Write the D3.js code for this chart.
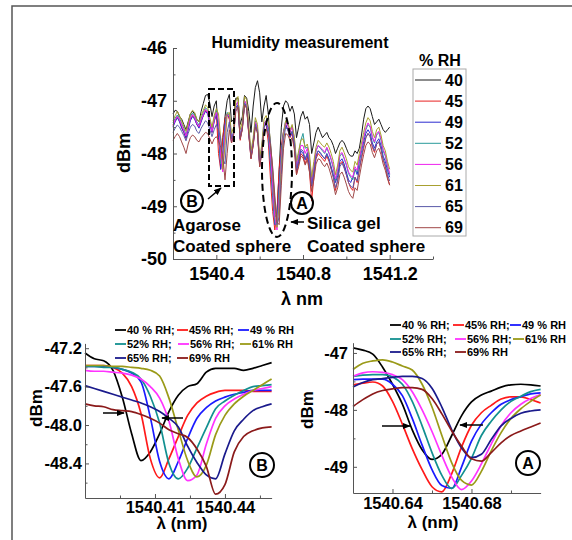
<!DOCTYPE html>
<html>
<head>
<meta charset="utf-8">
<script src="https://cdn.jsdelivr.net/npm/d3@7"></script>
<style>
body { margin: 0; background: #fff; }
svg { font-family: "Liberation Sans", Arial, sans-serif; }
.tick text { font-weight: bold; fill: #000; }
</style>
</head>
<body>
<div id="chart"></div>
<script>
// ---------------- data ----------------
var humidity = [40, 45, 49, 52, 56, 61, 65, 69];
var mainColors = ["#1a1a1a", "#e82020", "#2a2ad0", "#2a9a9a", "#ee22ee", "#a8a030", "#5a5aa8", "#a04848"];
var insetColors = ["#000000", "#ff1a1a", "#1a1aff", "#129090", "#ff33ff", "#9a9a18", "#1a1a8c", "#8b1a1a"];
var insetLabels = ["40 % RH;", "45% RH;", "49 % RH", "52% RH;", "56% RH;", "61% RH", "65% RH;", "69% RH"];

// main spectrum: 1540.20 .. 1541.20 nm, one value every 0.01 nm
var mainStart = 1540.20, mainStep = 0.01;
var main40 = [-47.25,-47.18,-47.20,-47.30,-47.35,-47.45,-47.55,-47.40,-47.25,-47.20,
  -47.25,-47.35,-47.40,-47.20,-47.05,-46.90,-46.88,-47.05,-47.30,-47.10,
  -47.00,-47.70,-48.05,-47.70,-47.30,-47.00,-46.88,-47.40,-47.35,-46.95,
  -46.95,-47.45,-47.30,-46.90,-46.95,-47.20,-47.60,-47.10,-46.75,-46.62,
  -46.85,-47.40,-47.10,-46.90,-47.25,-47.90,-48.60,-49.20,-49.15,-48.30,
  -47.50,-47.10,-47.00,-47.05,-47.20,-47.10,-47.25,-47.70,-47.50,-47.30,
  -47.20,-47.35,-47.30,-47.45,-48.00,-47.80,-47.60,-47.50,-47.60,-47.70,
  -47.65,-47.60,-47.70,-47.75,-47.85,-48.00,-47.90,-47.80,-47.75,-47.80,
  -47.90,-48.00,-48.05,-48.05,-47.95,-48.00,-47.90,-47.65,-47.35,-47.15,
  -47.10,-47.15,-47.30,-47.45,-47.40,-47.35,-47.45,-47.55,-47.60,-47.55,-47.50];
var main45 = [-47.45,-47.38,-47.30,-47.38,-47.50,-47.60,-47.72,-47.52,-47.35,-47.28,
  -47.33,-47.45,-47.50,-47.38,-47.28,-47.18,-47.22,-47.42,-47.60,-47.38,
  -47.25,-48.00,-48.30,-47.70,-47.35,-47.25,-47.35,-47.80,-47.62,-47.12,
  -47.08,-47.75,-47.52,-47.05,-47.12,-47.65,-48.10,-47.85,-47.42,-47.58,
  -48.25,-47.95,-47.50,-47.45,-47.80,-48.50,-49.10,-49.45,-49.10,-48.30,
  -47.85,-47.58,-47.45,-47.55,-47.70,-47.62,-47.88,-48.40,-48.20,-48.00,
  -48.05,-48.20,-48.05,-48.35,-48.90,-48.45,-48.10,-48.00,-48.05,-48.10,
  -48.15,-48.05,-48.15,-48.30,-48.45,-48.70,-48.50,-48.20,-48.15,-48.25,
  -48.40,-48.55,-48.65,-48.70,-48.45,-48.55,-48.30,-48.10,-47.90,-47.70,
  -47.62,-47.68,-47.88,-47.98,-47.82,-47.78,-47.92,-48.12,-48.25,-48.45,-48.60];
var main49 = [-47.50,-47.40,-47.32,-47.40,-47.52,-47.60,-47.70,-47.55,-47.38,-47.30,
  -47.35,-47.45,-47.52,-47.40,-47.28,-47.20,-47.25,-47.45,-47.60,-47.40,
  -47.25,-47.55,-48.30,-48.05,-47.45,-47.25,-47.32,-47.78,-47.60,-47.12,
  -47.08,-47.72,-47.52,-47.05,-47.12,-47.62,-48.08,-47.82,-47.45,-47.58,
  -48.22,-47.92,-47.48,-47.42,-47.65,-48.20,-48.80,-49.35,-49.30,-48.60,
  -47.95,-47.60,-47.45,-47.55,-47.68,-47.58,-47.82,-48.32,-48.15,-47.95,
  -48.00,-48.12,-48.00,-48.25,-48.62,-48.35,-48.05,-47.95,-48.00,-48.05,
  -48.10,-48.00,-48.10,-48.25,-48.40,-48.55,-48.42,-48.15,-48.10,-48.20,
  -48.35,-48.50,-48.55,-48.45,-48.30,-48.40,-48.15,-47.95,-47.78,-47.62,
  -47.55,-47.62,-47.80,-47.90,-47.78,-47.72,-47.85,-48.05,-48.15,-48.32,-48.45];
var main52 = [-47.42,-47.33,-47.27,-47.33,-47.43,-47.52,-47.65,-47.48,-47.30,-47.23,
  -47.28,-47.40,-47.46,-47.33,-47.22,-47.13,-47.18,-47.38,-47.55,-47.33,
  -47.18,-47.45,-48.20,-48.15,-47.50,-47.22,-47.28,-47.72,-47.58,-47.08,
  -47.03,-47.68,-47.48,-47.00,-47.08,-47.58,-48.02,-47.78,-47.38,-47.52,
  -48.18,-47.88,-47.42,-47.38,-47.62,-48.15,-48.75,-49.30,-49.38,-48.70,
  -48.00,-47.58,-47.38,-47.45,-47.58,-47.48,-47.72,-48.20,-48.00,-47.75,
  -47.62,-47.90,-47.88,-48.10,-48.52,-48.25,-47.95,-47.85,-47.90,-47.95,
  -48.00,-47.90,-48.00,-48.12,-48.28,-48.52,-48.35,-48.05,-48.00,-48.10,
  -48.22,-48.38,-48.45,-48.50,-48.30,-48.35,-48.10,-47.92,-47.72,-47.55,
  -47.45,-47.50,-47.70,-47.80,-47.65,-47.60,-47.75,-47.95,-48.05,-48.25,-48.40];
var main56 = [-47.48,-47.36,-47.30,-47.36,-47.46,-47.56,-47.67,-47.50,-47.33,-47.26,
  -47.31,-47.43,-47.49,-47.36,-47.26,-47.16,-47.21,-47.41,-47.58,-47.36,
  -47.22,-47.38,-48.05,-48.35,-47.62,-47.25,-47.30,-47.75,-47.60,-47.08,
  -47.02,-47.70,-47.50,-47.00,-47.07,-47.60,-48.05,-47.80,-47.40,-47.54,
  -48.20,-47.90,-47.44,-47.38,-47.55,-48.00,-48.60,-49.20,-49.45,-48.85,
  -48.10,-47.62,-47.40,-47.48,-47.60,-47.50,-47.75,-48.25,-48.05,-47.85,
  -47.85,-48.00,-47.90,-48.12,-48.55,-48.25,-47.95,-47.85,-47.88,-47.92,
  -47.98,-47.88,-47.98,-48.10,-48.25,-48.48,-48.30,-48.02,-47.98,-48.08,
  -48.20,-48.35,-48.42,-48.45,-48.25,-48.32,-48.08,-47.90,-47.70,-47.52,
  -47.42,-47.48,-47.68,-47.78,-47.62,-47.58,-47.72,-47.92,-48.02,-48.22,-48.38];
var main61 = [-47.38,-47.28,-47.20,-47.28,-47.38,-47.48,-47.58,-47.42,-47.25,-47.18,
  -47.22,-47.35,-47.40,-47.28,-47.18,-47.08,-47.12,-47.32,-47.50,-47.28,
  -47.15,-47.25,-47.70,-48.30,-47.85,-47.25,-47.22,-47.62,-47.50,-47.00,
  -46.92,-47.55,-47.40,-46.92,-46.98,-47.48,-47.95,-47.70,-47.32,-47.45,
  -48.10,-47.82,-47.35,-47.28,-47.40,-47.80,-48.35,-49.00,-49.40,-49.00,
  -48.20,-47.65,-47.38,-47.42,-47.55,-47.45,-47.68,-48.15,-47.95,-47.75,
  -47.72,-47.88,-47.82,-48.02,-48.45,-48.15,-47.88,-47.75,-47.80,-47.85,
  -47.88,-47.80,-47.88,-48.00,-48.15,-48.40,-48.22,-47.95,-47.88,-47.98,
  -48.10,-48.25,-48.32,-48.35,-48.15,-48.22,-48.00,-47.80,-47.60,-47.42,
  -47.32,-47.38,-47.58,-47.70,-47.55,-47.50,-47.65,-47.85,-47.95,-48.15,-48.30];
var main65 = [-47.60,-47.52,-47.46,-47.50,-47.58,-47.66,-47.76,-47.62,-47.50,-47.45,
  -47.48,-47.58,-47.62,-47.52,-47.45,-47.38,-47.42,-47.55,-47.68,-47.55,
  -47.45,-47.55,-47.72,-48.10,-48.20,-47.60,-47.40,-47.72,-47.62,-47.15,
  -47.10,-47.70,-47.52,-47.05,-47.12,-47.62,-48.05,-47.82,-47.45,-47.58,
  -48.20,-47.95,-47.50,-47.45,-47.50,-47.80,-48.30,-48.90,-49.35,-49.20,
  -48.40,-47.75,-47.50,-47.55,-47.65,-47.58,-47.80,-48.30,-48.12,-47.92,
  -47.95,-48.10,-47.98,-48.22,-48.60,-48.35,-48.05,-47.95,-47.98,-48.05,
  -48.10,-48.02,-48.12,-48.28,-48.45,-48.65,-48.52,-48.25,-48.18,-48.28,
  -48.40,-48.55,-48.62,-48.65,-48.45,-48.52,-48.28,-48.05,-47.85,-47.70,
  -47.62,-47.68,-47.85,-47.95,-47.82,-47.78,-47.90,-48.10,-48.22,-48.40,-48.52];
var main69 = [-47.75,-47.68,-47.62,-47.68,-47.78,-47.88,-48.00,-47.82,-47.70,-47.65,
  -47.68,-47.75,-47.78,-47.70,-47.65,-47.60,-47.62,-47.72,-47.82,-47.72,
  -47.68,-47.75,-47.88,-48.05,-48.50,-48.00,-47.55,-47.80,-47.65,-47.20,
  -47.12,-47.72,-47.55,-47.08,-47.15,-47.65,-48.10,-47.85,-47.50,-47.62,
  -48.25,-48.00,-47.60,-47.55,-47.62,-47.85,-48.25,-48.80,-49.30,-49.35,
  -48.60,-47.90,-47.62,-47.65,-47.75,-47.70,-47.92,-48.40,-48.25,-48.05,
  -48.08,-48.22,-48.12,-48.35,-48.72,-48.50,-48.20,-48.10,-48.12,-48.20,
  -48.25,-48.18,-48.28,-48.42,-48.58,-48.78,-48.65,-48.40,-48.35,-48.45,
  -48.58,-48.72,-48.80,-48.85,-48.65,-48.70,-48.45,-48.22,-48.02,-47.85,
  -47.78,-47.82,-47.98,-48.08,-47.95,-47.90,-48.02,-48.20,-48.32,-48.48,-48.60];
var mainSeries = [main40, main45, main49, main52, main56, main61, main65, main69];

// inset B (agarose sphere): 1540.380 .. 1540.460 nm every 0.004 nm
var bStart = 1540.38, bStep = 0.004;
var b40 = [-47.25,-47.31,-47.33,-47.43,-47.71,-48.09,-48.37,-48.28,-48.09,-47.86,-47.69,-47.60,-47.57,-47.45,-47.41,-47.41,-47.41,-47.43,-47.41,-47.38,-47.35];
var b45 = [-47.38,-47.38,-47.38,-47.40,-47.46,-47.60,-47.88,-48.35,-48.55,-48.35,-48.12,-47.90,-47.77,-47.70,-47.66,-47.64,-47.64,-47.64,-47.65,-47.65,-47.65];
var b49 = [-47.39,-47.39,-47.39,-47.40,-47.42,-47.46,-47.55,-47.92,-48.38,-48.56,-48.38,-48.14,-47.93,-47.82,-47.75,-47.71,-47.68,-47.66,-47.64,-47.64,-47.64];
var b52 = [-47.39,-47.39,-47.40,-47.40,-47.42,-47.45,-47.52,-47.70,-47.98,-48.40,-48.56,-48.45,-48.24,-48.03,-47.83,-47.75,-47.69,-47.64,-47.60,-47.59,-47.58];
var b56 = [-47.43,-47.44,-47.44,-47.45,-47.46,-47.48,-47.52,-47.60,-47.72,-47.96,-48.35,-48.58,-48.52,-48.20,-47.93,-47.80,-47.73,-47.68,-47.64,-47.62,-47.60];
var b61 = [-47.38,-47.38,-47.38,-47.39,-47.39,-47.40,-47.41,-47.43,-47.49,-47.72,-48.05,-48.37,-48.54,-48.42,-48.10,-47.90,-47.78,-47.70,-47.64,-47.58,-47.52];
var b65 = [-47.59,-47.62,-47.65,-47.68,-47.71,-47.74,-47.77,-47.81,-47.86,-47.93,-48.02,-48.22,-48.39,-48.52,-48.56,-48.30,-48.06,-47.94,-47.85,-47.81,-47.78];
var b69 = [-47.78,-47.80,-47.81,-47.84,-47.85,-47.86,-47.89,-47.93,-47.98,-48.05,-48.09,-48.13,-48.25,-48.43,-48.72,-48.62,-48.28,-48.12,-48.06,-48.03,-48.02];
var bSeries = [b40, b45, b49, b52, b56, b61, b65, b69];

// inset A (silica gel sphere): 1540.620 .. 1540.715 nm every 0.005 nm
var aStart = 1540.62, aStep = 0.005;
var a40 = [-46.91,-46.95,-47.02,-47.25,-47.55,-47.90,-48.35,-48.70,-48.87,-48.78,-48.45,-48.10,-47.86,-47.74,-47.67,-47.60,-47.56,-47.55,-47.56,-47.58];
var a45 = [-47.56,-47.53,-47.51,-47.58,-47.85,-48.25,-48.68,-49.05,-49.35,-49.44,-49.12,-48.65,-48.27,-48.05,-47.92,-47.81,-47.77,-47.77,-47.82,-47.88];
var a49 = [-47.47,-47.46,-47.46,-47.46,-47.55,-47.75,-48.15,-48.62,-49.05,-49.33,-49.38,-49.00,-48.55,-48.25,-48.05,-47.90,-47.82,-47.77,-47.72,-47.70];
var a52 = [-47.41,-47.39,-47.38,-47.38,-47.42,-47.55,-47.85,-48.28,-48.75,-49.15,-49.38,-49.15,-48.85,-48.45,-48.20,-48.00,-47.85,-47.76,-47.68,-47.64];
var a56 = [-47.41,-47.35,-47.33,-47.34,-47.38,-47.47,-47.68,-48.00,-48.38,-48.80,-49.18,-49.40,-49.25,-48.95,-48.60,-48.28,-48.05,-47.90,-47.80,-47.73];
var a61 = [-47.29,-47.18,-47.14,-47.12,-47.16,-47.23,-47.30,-47.55,-47.95,-48.45,-48.93,-49.24,-49.32,-49.08,-48.72,-48.40,-48.15,-47.98,-47.85,-47.74];
var a65 = [-47.60,-47.52,-47.47,-47.45,-47.43,-47.41,-47.41,-47.45,-47.62,-47.95,-48.35,-48.67,-48.84,-48.78,-48.52,-48.28,-48.15,-48.06,-48.02,-48.00];
var a69 = [-47.94,-47.82,-47.72,-47.66,-47.63,-47.61,-47.61,-47.64,-47.80,-48.07,-48.37,-48.64,-48.86,-48.90,-48.75,-48.58,-48.45,-48.37,-48.30,-48.23];
var aSeries = [a40, a45, a49, a52, a56, a61, a65, a69];

// ---------------- svg ----------------
var svg = d3.select("#chart").append("svg")
  .attr("width", 572)
  .attr("height", 540);

svg.append("defs").append("marker")
  .attr("id", "arrow")
  .attr("viewBox", "0 0 10 10")
  .attr("refX", 9).attr("refY", 5)
  .attr("markerWidth", 8).attr("markerHeight", 8)
  .attr("markerUnits", "userSpaceOnUse")
  .attr("orient", "auto")
  .append("path")
  .attr("d", "M0,1 L10,5 L0,9 z")
  .attr("fill", "#000");

// outer frame (top and left edges visible)
svg.append("path")
  .attr("d", "M12,540 L12,6 L572,6")
  .attr("fill", "none")
  .attr("stroke", "#555")
  .attr("stroke-width", 1.5);

// draws inward ticks (major with labels, minor without)
function drawAxes(x, y, opt) {
  var g = svg.append("g");
  g.append("g")
    .attr("transform", `translate(0, ${y.range()[0]})`)
    .call(d3.axisBottom(x).tickValues(opt.xMinor).tickSize(-opt.minor).tickSizeOuter(0).tickFormat(""))
    .call(a => a.select(".domain").remove());
  var xa = g.append("g")
    .attr("transform", `translate(0, ${y.range()[0]})`)
    .call(d3.axisBottom(x).tickValues(opt.xMajor).tickSize(-opt.major).tickSizeOuter(0)
      .tickPadding(opt.xPad).tickFormat(opt.xFormat));
  g.append("g")
    .attr("transform", `translate(${x.range()[0]}, 0)`)
    .call(d3.axisLeft(y).tickValues(opt.yMinor).tickSize(-opt.minor).tickSizeOuter(0).tickFormat(""))
    .call(a => a.select(".domain").remove());
  var ya = g.append("g")
    .attr("transform", `translate(${x.range()[0]}, 0)`)
    .call(d3.axisLeft(y).tickValues(opt.yMajor).tickSize(-opt.major).tickSizeOuter(0)
      .tickPadding(opt.yPad).tickFormat(opt.yFormat));
  g.selectAll(".domain").attr("stroke", "#555");
  g.selectAll(".tick line").attr("stroke", "#555");
  g.selectAll(".tick text")
    .style("font-size", opt.font + "px")
    .style("font-family", "'Liberation Sans', Arial, sans-serif");
  return g;
}

function drawSeries(x, y, start, step, series, colors, width) {
  var line = d3.line()
    .x((d, i) => x(start + i * step))
    .y(d => y(d));
  if (width > 1.2) line.curve(d3.curveMonotoneX);
  svg.append("g")
    .selectAll("path")
    .data(series)
    .enter()
    .append("path")
    .attr("d", line)
    .attr("fill", "none")
    .attr("stroke", (d, i) => colors[i])
    .attr("stroke-width", width)
    .attr("stroke-linejoin", "round");
}

function label(txt, x, y, size, anchor, rotate) {
  var t = svg.append("text")
    .attr("x", x).attr("y", y)
    .attr("text-anchor", anchor || "start")
    .style("font-size", size + "px")
    .style("font-weight", "bold")
    .text(txt);
  if (rotate) t.attr("transform", `rotate(-90, ${x}, ${y})`);
  return t;
}

function circled(txt, cx, cy, r) {
  svg.append("circle").attr("cx", cx).attr("cy", cy).attr("r", r)
    .attr("fill", "none").attr("stroke", "#000").attr("stroke-width", 2);
  label(txt, cx, cy + 6, 16, "middle");
}

function arrow(x1, y1, x2, y2) {
  svg.append("line")
    .attr("x1", x1).attr("y1", y1).attr("x2", x2).attr("y2", y2)
    .attr("stroke", "#000").attr("stroke-width", 1.5)
    .attr("marker-end", "url(#arrow)");
}

// ---------------- main chart ----------------
var xMain = d3.scaleLinear().domain([1540.2, 1541.4]).range([173, 433]);
var yMain = d3.scaleLinear().domain([-50, -46]).range([259, 48]);

drawSeries(xMain, yMain, mainStart, mainStep, mainSeries, mainColors, 1);

drawAxes(xMain, yMain, {
  xMajor: [1540.4, 1540.8, 1541.2], xMinor: [1540.2, 1540.6, 1541.0, 1541.4],
  yMajor: [-50, -49, -48, -47, -46], yMinor: [-49.5, -48.5, -47.5, -46.5],
  xFormat: d => d.toFixed(1), yFormat: d => String(d),
  major: 4, minor: 2.5, xPad: 8, yPad: 6, font: 18
});

label("Humidity measurement", 300, 48, 16, "middle");
label("dBm", 130, 153, 18, "middle", true);
label("λ nm", 302, 305, 18, "middle");

// dashed marks around the two resonances
svg.append("rect")
  .attr("x", 209).attr("y", 89).attr("width", 25).attr("height", 97)
  .attr("fill", "none").attr("stroke", "#000").attr("stroke-width", 2)
  .attr("stroke-dasharray", "6,3");
svg.append("ellipse")
  .attr("cx", 277).attr("cy", 170).attr("rx", 15).attr("ry", 67)
  .attr("fill", "none").attr("stroke", "#000").attr("stroke-width", 2)
  .attr("stroke-dasharray", "7,4");

circled("B", 192, 201, 11);
arrow(208, 199, 221, 188);
label("Agarose", 173, 231, 17);
label("Coated sphere", 173, 252, 17);
circled("A", 302, 203, 11);
arrow(304, 222, 291, 222);
label("Silica gel", 307, 229, 17);
label("Coated sphere", 307, 252, 17);

// legend
svg.append("rect")
  .attr("x", 413).attr("y", 69).attr("width", 53).attr("height", 167)
  .attr("fill", "#fff").attr("stroke", "#aaa").attr("stroke-width", 1);
label("% RH", 440, 66, 16, "middle");
humidity.forEach(function(h, i) {
  var yy = 80 + i * 21.1;
  svg.append("line").attr("x1", 415).attr("x2", 441).attr("y1", yy).attr("y2", yy)
    .attr("stroke", mainColors[i]).attr("stroke-width", 1);
  label(h, 445, yy + 5.5, 16);
});

// ---------------- inset B ----------------
var xB = d3.scaleLinear().domain([1540.38, 1540.46]).range([85, 271.6]);
var yB = d3.scaleLinear().domain([-48.76, -47.15]).range([498, 343.4]);

drawSeries(xB, yB, bStart, bStep, bSeries, insetColors, 1.7);
drawAxes(xB, yB, {
  xMajor: [1540.41, 1540.44], xMinor: [1540.38, 1540.395, 1540.425, 1540.455],
  yMajor: [-48.4, -48.0, -47.6, -47.2], yMinor: [-48.6, -48.2, -47.8, -47.4],
  xFormat: d => d.toFixed(2), yFormat: d => d.toFixed(1),
  major: 4, minor: 2.5, xPad: 3, yPad: 3, font: 16.5
});
label("dBm", 42, 408, 17, "middle", true);
label("λ (nm)", 182, 529, 17, "middle");
circled("B", 262, 465, 12);
arrow(103, 413, 124, 413);
arrow(183, 418, 162, 418);

// ---------------- inset A ----------------
var xA = d3.scaleLinear().domain([1540.62, 1540.715]).range([353, 540.6]);
var yA = d3.scaleLinear().domain([-49.46, -46.82]).range([493, 342.7]);

drawSeries(xA, yA, aStart, aStep, aSeries, insetColors, 1.7);
drawAxes(xA, yA, {
  xMajor: [1540.64, 1540.68], xMinor: [1540.62, 1540.66, 1540.70],
  yMajor: [-49, -48, -47], yMinor: [-48.5, -47.5],
  xFormat: d => d.toFixed(2), yFormat: d => String(d),
  major: 4, minor: 2.5, xPad: 4, yPad: 5, font: 16.5
});
label("dBm", 313, 410, 17, "middle", true);
label("λ (nm)", 433, 528, 17, "middle");
circled("A", 528, 463, 12);
arrow(382, 426, 410, 426);
arrow(483, 425, 460, 425);

// ---------------- inset legends ----------------
function insetLegend(cols, rows) {
  insetLabels.forEach(function(t, i) {
    var r = Math.floor(i / 3), c = i % 3;
    var x0 = cols[r][c], yy = rows[r];
    svg.append("line").attr("x1", x0).attr("x2", x0 + 11).attr("y1", yy).attr("y2", yy)
      .attr("stroke", insetColors[i]).attr("stroke-width", 1.8);
    label(t, x0 + 12, yy + 4, 11);
  });
}
insetLegend([[115, 177, 238], [115, 178, 240], [115, 177]], [330, 344, 358]);
insetLegend([[390, 453, 510], [390, 455, 513], [390, 455]], [325, 339, 352]);
</script>
</body>
</html>
